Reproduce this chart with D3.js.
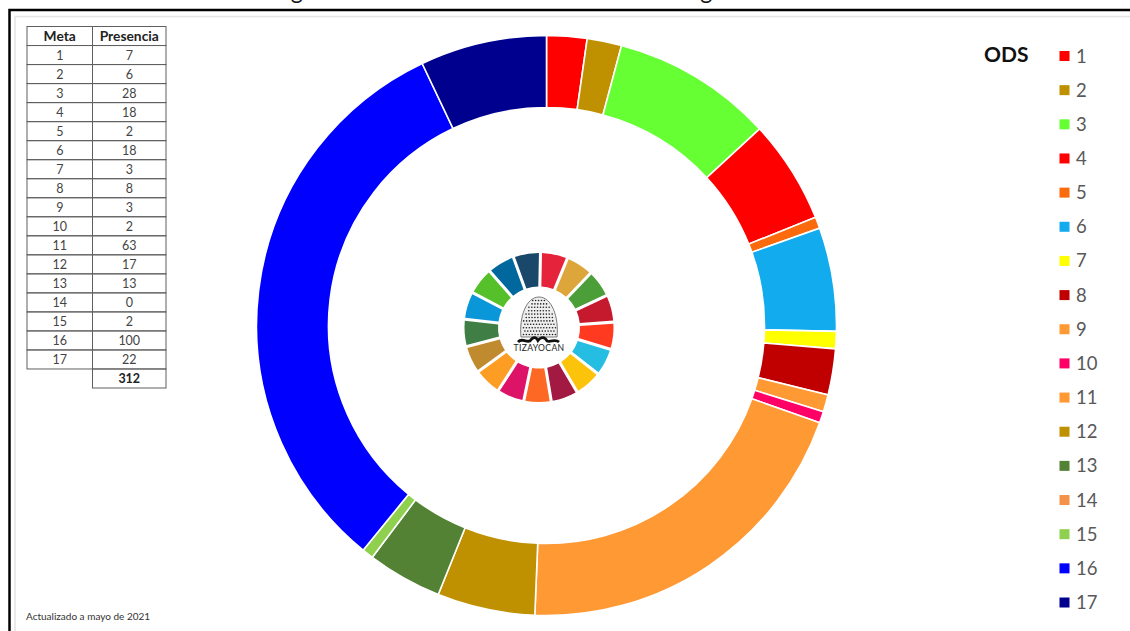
<!DOCTYPE html>
<html>
<head>
<meta charset="utf-8">
<script src="https://d3js.org/d3.v7.min.js"></script>
<style>
    html, body { margin: 0; padding: 0; background: #fff; overflow: hidden; }
    svg { display: block; font-family: Lato, sans-serif; }
</style>
</head>
<body>
<svg id="canvas" width="1130" height="631"></svg>
<script>
// Chart values
const metas = [1, 2, 3, 4, 5, 6, 7, 8, 9, 10, 11, 12, 13, 14, 15, 16, 17];
const presencia = [7, 6, 28, 18, 2, 18, 3, 8, 3, 2, 63, 17, 13, 0, 2, 100, 22];
const total = 312;
const odsColors = ['#ff0000', '#bf9000', '#66ff33', '#ff0000', '#fb6a0c', '#12abee', '#ffff00', '#c00000',
    '#ff9933', '#ff0066', '#ff9933', '#bf9000', '#548235', '#f4924a', '#8fd14f', '#0000ff', '#00008f'];
// Official SDG wheel colours for the small logo
const wheelColors = ['#e5243b', '#dda63a', '#4c9f38', '#c5192d', '#ff3a21', '#26bde2', '#fcc30b', '#a21942',
    '#fd6925', '#dd1367', '#fd9d24', '#bf8b2e', '#3f7e44', '#0a97d9', '#56c02b', '#00689d', '#19486a'];
const tableHeaders = ['Meta', 'Presencia'];
const titleText = 'Figura 10. Orientación de los acuerdos de gabinete al ODS';
const noteText = 'Actualizado a mayo de 2021';

const svg = d3.select('#canvas');

// Title, cut by the top of the page in the reference too
svg.append('text').attr('x', 272).attr('y', -1.5)
    .attr('font-size', 23.2).attr('fill', '#111').text(titleText);

// Frame lines
const frame = svg.append('g').attr('fill', 'none');
frame.append('path').attr('d', 'M15,631V16.5H1130').attr('stroke', '#e4e4e4').attr('stroke-width', 1.5);
frame.append('path').attr('d', 'M9.5,631V10H1130').attr('stroke', '#000').attr('stroke-width', 2.5);

// Main donut
const pie = d3.pie().sort(null).value(d => d);
const ring = svg.append('g').attr('transform', 'translate(546.5,325.5)');
const arc = d3.arc().innerRadius(218).outerRadius(290);
ring.selectAll('path')
    .data(pie(presencia))
    .join('path')
    .attr('d', arc)
    .attr('fill', (d, i) => odsColors[i])
    .attr('stroke', '#fff')
    .attr('stroke-width', d => d.value ? 1.6 : 0);

// SDG wheel logo in the centre
const logo = svg.append('g').attr('transform', 'translate(539,327.5)');
const wheelArc = d3.arc().innerRadius(41).outerRadius(74.5).padAngle(0.036);
const wheelPie = d3.pie().sort(null).value(1).startAngle(0.02).endAngle(0.02 + 2 * Math.PI);
logo.selectAll('path.wheel')
    .data(wheelPie(wheelColors))
    .join('path')
    .attr('class', 'wheel')
    .attr('d', wheelArc)
    .attr('fill', d => d.data);

// Tizayocan glyph: dotted mound on a dark base
const mound = 'M-18,9.5 C-20,-10 -13,-30.5 0,-30.5 C13,-30.5 20,-10 18,9.5 Z';
logo.append('path').attr('d', mound).attr('fill', '#eeeeee').attr('stroke', '#444').attr('stroke-width', 0.7);
const dotRows = d3.range(-27, 9, 3.4);
dotRows.forEach((y, r) => {
    const half = 16.5 * Math.min(1, Math.pow((y + 32) / 26, 0.5));
    d3.range(-half + 1 + (r % 2) * 1.4, half, 2.9).forEach(x => {
        logo.append('circle').attr('cx', x).attr('cy', y).attr('r', 0.8).attr('fill', '#222');
    });
});
logo.append('path')
    .attr('d', 'M-21,14.5 C-17,10 -14,15 -9,13.5 C-6,9 -3,9 -1,13 C2,9 6,9 8,13.5 C12,15 16,11 20,14.5')
    .attr('fill', 'none').attr('stroke', '#111').attr('stroke-width', 2.8);
logo.append('text').attr('x', 0).attr('y', 23.5).attr('text-anchor', 'middle')
    .attr('font-size', 8.6).attr('letter-spacing', 0.35).attr('fill', '#222').text('TIZAYOCAN');

// Table
const rowCount = metas.length + 2;
const rowY = d3.scaleLinear().domain([0, rowCount]).range([26.5, 388]);
const colX = [27, 92.5, 166];
const table = svg.append('g').attr('fill', '#333').attr('text-anchor', 'middle');
const rows = [tableHeaders].concat(metas.map((m, i) => [m, presencia[i]]), [['', total]]);
rows.forEach((row, r) => {
    row.forEach((cell, c) => {
        if (cell === '') return;
        table.append('rect')
            .attr('x', colX[c]).attr('y', rowY(r))
            .attr('width', colX[c + 1] - colX[c]).attr('height', rowY(r + 1) - rowY(r))
            .attr('fill', 'none').attr('stroke', '#5f5f5f').attr('stroke-width', 1);
        table.append('text')
            .attr('x', (colX[c] + colX[c + 1]) / 2).attr('y', rowY(r + 0.5) + 4.5)
            .attr('font-weight', (r === 0 || r === rowCount - 1) ? 700 : 400)
            .attr('fill', (r === 0 || r === rowCount - 1) ? '#222' : '#444')
            .attr('font-size', r === 0 ? 13.8 : 12.5)
            .text(cell);
    });
});

// Legend
const legendY = d3.scalePoint().domain(metas).range([56, 602.5]);
svg.append('text').attr('x', 984).attr('y', 62).attr('font-size', 21).attr('font-weight', 700)
    .attr('fill', '#111').text('ODS');
const legend = svg.append('g').selectAll('g')
    .data(metas)
    .join('g')
    .attr('transform', d => `translate(1059.5,${legendY(d)})`);
legend.append('rect').attr('x', 0).attr('y', -5).attr('width', 10).attr('height', 10)
    .attr('fill', (d, i) => odsColors[i]);
legend.append('text').attr('x', 16.5).attr('y', 6.5).attr('font-size', 18.5).attr('fill', '#595959').text(d => d);

// Note
svg.append('text').attr('x', 26).attr('y', 620).attr('font-size', 10).attr('fill', '#333').text(noteText);
</script>
</body>
</html>
